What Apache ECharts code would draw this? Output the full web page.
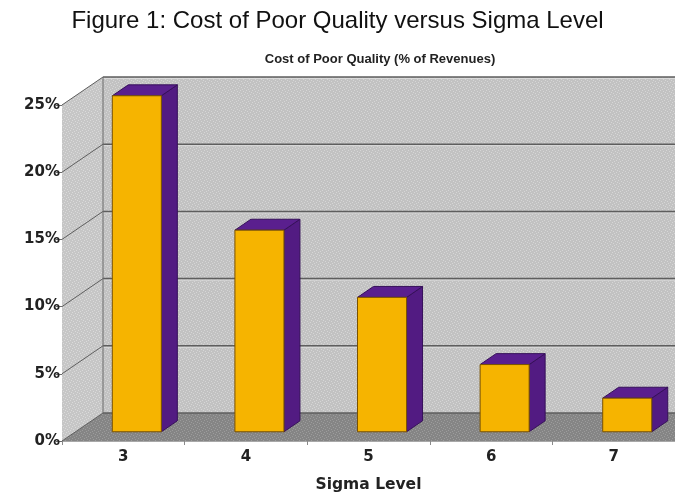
<!DOCTYPE html>
<html>
<head>
<meta charset="utf-8">
<script src="https://cdn.jsdelivr.net/npm/echarts@6/dist/echarts.min.js"></script>
<style>
  html, body { margin: 0; padding: 0; background: #ffffff; }
  #chart { width: 675px; height: 498px; }
</style>
</head>
<body>
<div id="chart"></div>
<script>
// Sigma levels and the cost of poor quality as a share of revenues
const sigmaLevels = ['3', '4', '5', '6', '7'];
const costPercent = [25, 15, 10, 5, 2.5];
const yTickValues = [0, 5, 10, 15, 20, 25];

// Perspective offset from the front plane to the back wall (pixels)
const DEPTH = [41, -28];
// Bars sit between these fractions of the depth
const BAR_FRONT = 0.33, BAR_BACK = 0.72;
const BAR_WIDTH = 0.40; // fraction of the category band

const AXIS_FONT = '"DejaVu Sans", Verdana, sans-serif';

// Small dotted texture for the walls and floor
function stipple(base, dot) {
  const c = document.createElement('canvas');
  c.width = 6; c.height = 6;
  const g = c.getContext('2d');
  g.fillStyle = base; g.fillRect(0, 0, 6, 6);
  g.fillStyle = dot;
  [[0, 0], [3, 1], [1, 3], [4, 4], [2, 5], [5, 2]].forEach(p => g.fillRect(p[0], p[1], 1, 1));
  return c;
}
const wallFill = { image: stipple('#c2c2c2', '#d6d6d6'), repeat: 'repeat' };
const sideFill = { image: stipple('#c6c6c6', '#dadada'), repeat: 'repeat' };
const floorFill = { image: stipple('#858585', '#9c9c9c'), repeat: 'repeat' };

// Walls, floor and gridlines, all placed from the value axis scale
function renderRoom(params, api) {
  const cs = params.coordSys;
  const [dx, dy] = DEPTH;
  const x0 = cs.x, x1 = cs.x + cs.width;
  const yBot = api.coord([0, 0])[1];
  const yTop = api.coord([0, yTickValues[yTickValues.length - 1]])[1];
  const children = [];
  // back wall
  children.push({ type: 'polygon', shape: { points: [
      [x0 + dx, yTop + dy], [x1 + dx, yTop + dy], [x1 + dx, yBot + dy], [x0 + dx, yBot + dy]] },
    style: { fill: wallFill } });
  // left side wall
  children.push({ type: 'polygon', shape: { points: [
      [x0, yTop], [x0 + dx, yTop + dy], [x0 + dx, yBot + dy], [x0, yBot]] },
    style: { fill: sideFill } });
  // floor
  children.push({ type: 'polygon', shape: { points: [
      [x0, yBot], [x0 + dx, yBot + dy], [x1 + dx, yBot + dy], [x1, yBot]] },
    style: { fill: floorFill } });
  // gridlines on the back wall and the side wall
  yTickValues.forEach(v => {
    const y = api.coord([0, v])[1];
    if (v > 0) {
      children.push({ type: 'line', shape: { x1: x0 + dx, y1: y + dy + 1.5, x2: x1 + dx, y2: y + dy + 1.5 },
        style: { stroke: '#dadada', lineWidth: 1 } });
    }
    children.push({ type: 'line', shape: { x1: x0 + dx, y1: y + dy, x2: x1 + dx, y2: y + dy },
      style: { stroke: '#5e5e5e', lineWidth: 1.5 } });
    children.push({ type: 'line', shape: { x1: x0, y1: y, x2: x0 + dx, y2: y + dy },
      style: { stroke: '#5e5e5e', lineWidth: 1 } });
  });
  // back-left vertical edge
  children.push({ type: 'line', shape: { x1: x0 + dx, y1: yTop + dy, x2: x0 + dx, y2: yBot + dy },
    style: { stroke: '#6a6a6a', lineWidth: 1 } });
  return { type: 'group', children: children };
}

// One box per category: front face, right side and top
function renderBox(params, api) {
  const idx = api.value(0);
  const val = api.value(1);
  const base = api.coord([idx, 0]);
  const top = api.coord([idx, val]);
  const half = api.size([1, 0])[0] * BAR_WIDTH / 2;
  const [dx, dy] = DEPTH;
  const fx = dx * BAR_FRONT, fy = dy * BAR_FRONT;
  const bx = dx * BAR_BACK, by = dy * BAR_BACK;
  const L = base[0] - half, R = base[0] + half;
  const y0 = base[1], y1 = top[1];
  return {
    type: 'group',
    children: [
      { type: 'polygon', shape: { points: [
          [R + fx, y1 + fy], [R + bx, y1 + by], [R + bx, y0 + by], [R + fx, y0 + fy]] },
        style: { fill: '#521b82', stroke: '#36105a', lineWidth: 1 } },
      { type: 'polygon', shape: { points: [
          [L + fx, y1 + fy], [L + bx, y1 + by], [R + bx, y1 + by], [R + fx, y1 + fy]] },
        style: { fill: '#5a1f8e', stroke: '#36105a', lineWidth: 1 } },
      { type: 'rect', shape: { x: L + fx, y: y1 + fy, width: R - L, height: y0 - y1 },
        style: { fill: '#f6b400', stroke: '#7a5200', lineWidth: 1 } }
    ]
  };
}

const chart = echarts.init(document.getElementById('chart'), null, { renderer: 'canvas' });
chart.setOption({
  backgroundColor: '#ffffff',
  animation: false,
  title: [
    {
      text: 'Figure 1: Cost of Poor Quality versus Sigma Level',
      left: 'center', top: 9, padding: 0,
      textStyle: { fontFamily: '"Liberation Sans", Arial, sans-serif', fontSize: 24, fontWeight: 'normal', color: '#111' }
    },
    {
      text: 'Cost of Poor Quality (% of Revenues)',
      left: 380, top: 53, padding: 0, textAlign: 'center',
      textStyle: { fontFamily: '"Liberation Sans", Arial, sans-serif', fontSize: 13, fontWeight: 'bold', color: '#222' }
    }
  ],
  grid: { left: 62, top: 105, width: 622, height: 346, containLabel: false },
  xAxis: {
    type: 'category',
    data: sigmaLevels,
    name: 'Sigma Level',
    nameLocation: 'middle',
    nameGap: 36,
    nameTextStyle: { fontFamily: AXIS_FONT, fontSize: 15.5, fontWeight: 'bold', color: '#222' },
    axisLine: { show: true, lineStyle: { color: '#a8a8a8', width: 1 } },
    axisTick: { show: true, length: 4, lineStyle: { color: '#8a8a8a' } },
    axisLabel: { margin: 9, fontFamily: AXIS_FONT, fontSize: 15, fontWeight: 'bold', color: '#222' },
    splitLine: { show: false }
  },
  yAxis: {
    type: 'value',
    min: 0, max: 25, interval: 5,
    axisLine: { show: true, lineStyle: { color: '#6a6a6a', width: 1 } },
    axisTick: { show: true, length: 6, lineStyle: { color: '#6a6a6a' } },
    axisLabel: { margin: 2, formatter: '{value}%', fontFamily: AXIS_FONT, fontSize: 15, fontWeight: 'bold', color: '#222' },
    splitLine: { show: false }
  },
  series: [
    {
      type: 'custom',
      name: 'room',
      renderItem: renderRoom,
      data: [[0, 0]],
      z: 1,
      silent: true
    },
    {
      type: 'custom',
      name: 'Cost of Poor Quality',
      renderItem: renderBox,
      encode: { x: 0, y: 1 },
      data: sigmaLevels.map((s, i) => [i, costPercent[i]]),
      z: 3
    }
  ]
});
</script>
</body>
</html>
